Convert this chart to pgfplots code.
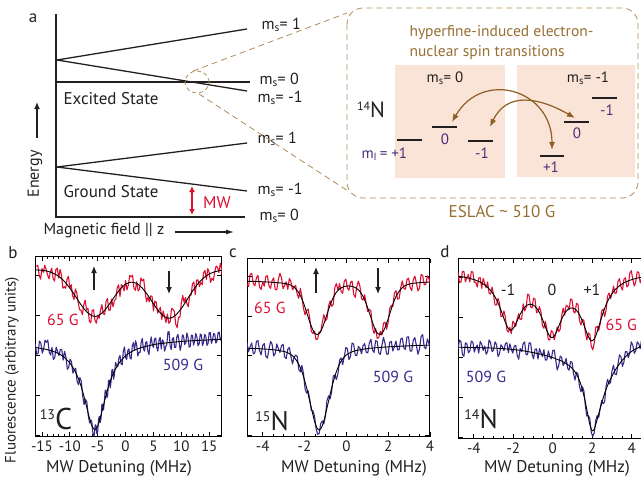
\documentclass[border=0pt]{standalone}
\usepackage{fontspec}
\setmainfont{PT Sans}
\usepackage{pgfplots}
\pgfplotsset{compat=1.18}
\usetikzlibrary{arrows.meta}
\definecolor{tracered}{RGB}{220,16,50}
\definecolor{traceblue}{RGB}{58,40,140}
\definecolor{tanline}{RGB}{176,140,90}
\definecolor{brownarrow}{RGB}{140,95,35}
\definecolor{browntext}{RGB}{150,110,50}
\definecolor{peach}{RGB}{250,228,216}
\definecolor{purp}{RGB}{75,45,120}
\definecolor{txt}{RGB}{35,31,32}
\newcommand{\fs}[1]{\fontsize{#1}{#1}\selectfont}
\newcommand{\ms}{m\textsubscript{s}}
\pgfplotsset{
 panel/.style={
  scale only axis, anchor=south west, ymin=0, ymax=1,
  ytick={0.011,0.233,0.456,0.678,0.9}, yticklabels={}, minor y tick num=2,
  tick align=inside, axis line style={line width=1pt},
  major tick length=4.5pt, minor tick length=2.5pt,
  every tick/.style={black, line width=0.8pt},
  xticklabel style={font=\fs{15}, text=txt},
  xtick={-4,-2,0,2,4}, xticklabels={-4,-2,0,2,4}, minor x tick num=3,
 },
 dataR/.style={tracered, line width=1.1pt, line join=round},
 dataB/.style={traceblue, line width=1.1pt, line join=round},
 fitK/.style={black, line width=0.9pt, smooth},
}
\begin{document}
\begin{tikzpicture}[x=1pt,y=1pt]
\useasboundingbox (0,0) rectangle (641,479);

% ---------- panel b ----------
\begin{axis}[panel, at={(35pt,42pt)}, width=187pt, height=180pt,
  xmin=-16.25, xmax=17.3, xtick={-15,-10,-5,0,5,10,15},
  xticklabels={-15,-10,-5,0,5,10,15}, minor x tick num=4]
\addplot[dataR] coordinates {(-16,0.948) (-15.75,0.953) (-15.5,0.897) (-15.25,0.877) (-15,0.936) (-14.75,0.915) (-14.5,0.954) (-14.25,0.93) (-14,0.901) (-13.75,0.879) (-13.5,0.916) (-13.25,0.938) (-13,0.880) (-12.75,0.866) (-12.5,0.932) (-12.25,0.938) (-12,0.883) (-11.75,0.931) (-11.5,0.899) (-11.25,0.827) (-11,0.835) (-10.75,0.826) (-10.5,0.876) (-10.25,0.892) (-10,0.827) (-9.75,0.846) (-9.5,0.785) (-9.25,0.764) (-9,0.822) (-8.75,0.80) (-8.5,0.748) (-8.25,0.707) (-8,0.705) (-7.75,0.68) (-7.5,0.735) (-7.25,0.76) (-7,0.706) (-6.75,0.715) (-6.5,0.644) (-6.25,0.634) (-6,0.703) (-5.75,0.707) (-5.5,0.650) (-5.25,0.632) (-5,0.673) (-4.75,0.659) (-4.5,0.704) (-4.25,0.735) (-4,0.685) (-3.75,0.68) (-3.5,0.754) (-3.25,0.769) (-3,0.704) (-2.75,0.705) (-2.5,0.766) (-2.25,0.723) (-2,0.759) (-1.75,0.765) (-1.5,0.830) (-1.25,0.845) (-1,0.780) (-0.75,0.848) (-0.5,0.835) (-0.25,0.812) (0,0.869) (0.25,0.817) (0.5,0.845) (0.75,0.898) (1,0.890) (1.25,0.899) (1.5,0.827) (1.75,0.815) (2,0.863) (2.25,0.812) (2.5,0.820) (2.75,0.884) (3,0.867) (3.25,0.877) (3.5,0.807) (3.75,0.752) (4,0.777) (4.25,0.751) (4.5,0.784) (4.75,0.782) (5,0.700) (5.25,0.755) (5.5,0.749) (5.75,0.688) (6,0.707) (6.25,0.72) (6.5,0.653) (6.75,0.70) (7,0.668) (7.25,0.636) (7.5,0.683) (7.75,0.632) (8,0.641) (8.25,0.715) (8.5,0.708) (8.75,0.698) (9,0.627) (9.25,0.607) (9.5,0.666) (9.75,0.665) (10,0.744) (10.25,0.786) (10.5,0.748) (10.75,0.775) (11,0.741) (11.25,0.724) (11.5,0.786) (11.75,0.788) (12,0.850) (12.25,0.861) (12.5,0.791) (12.75,0.872) (13,0.872) (13.25,0.835) (13.5,0.858) (13.75,0.846) (14,0.914) (14.25,0.925) (14.5,0.875) (14.75,0.935) (15,0.915) (15.25,0.859) (15.5,0.882) (15.75,0.87) (16,0.918) (16.25,0.95) (16.5,0.942) (16.75,0.914) (17,0.965) (17.15,0.95) (17.3,0.906)};
\addplot[dataB] coordinates {(-16.2,0.517) (-15.95,0.46) (-15.7,0.464) (-15.45,0.533) (-15.2,0.522) (-14.95,0.466) (-14.7,0.489) (-14.45,0.538) (-14.2,0.526) (-13.95,0.539) (-13.7,0.472) (-13.45,0.455) (-13.2,0.498) (-12.95,0.43) (-12.7,0.442) (-12.45,0.499) (-12.2,0.476) (-11.95,0.452) (-11.7,0.487) (-11.45,0.487) (-11.2,0.427) (-10.95,0.476) (-10.7,0.444) (-10.45,0.376) (-10.2,0.388) (-9.95,0.433) (-9.7,0.417) (-9.45,0.355) (-9.2,0.372) (-8.95,0.381) (-8.7,0.31) (-8.45,0.29) (-8.2,0.33) (-7.95,0.31) (-7.7,0.23) (-7.45,0.18) (-7.2,0.21) (-6.95,0.195) (-6.7,0.12) (-6.45,0.078) (-6.2,0.095) (-6.05,0.083) (-5.9,0.03) (-5.75,0.008) (-5.6,0.011) (-5.45,0.068) (-5.3,0.065) (-5.15,0.018) (-5.0,0.03) (-4.85,0.10) (-4.7,0.115) (-4.55,0.08) (-4.4,0.105) (-4.25,0.183) (-4.1,0.18) (-3.95,0.15) (-3.8,0.2) (-3.65,0.26) (-3.5,0.26) (-3.35,0.218) (-3.2,0.235) (-3.05,0.315) (-2.9,0.315) (-2.75,0.273) (-2.6,0.31) (-2.45,0.373) (-2.3,0.375) (-2.15,0.321) (-2.0,0.347) (-1.8,0.414) (-1.6,0.40) (-1.4,0.39) (-1.2,0.44) (-1.0,0.453) (-0.8,0.405) (-0.6,0.402) (-0.4,0.478) (-0.2,0.50) (0,0.441) (0.2,0.431) (0.4,0.48) (0.6,0.49) (0.8,0.439) (1.0,0.433) (1.2,0.506) (1.4,0.524) (1.6,0.482) (1.8,0.535) (2.0,0.508) (2.2,0.45) (2.4,0.472) (2.6,0.469) (2.8,0.526) (3.0,0.548) (3.2,0.49) (3.4,0.477) (3.6,0.523) (3.8,0.53) (4.0,0.476) (4.2,0.458) (4.4,0.519) (4.6,0.556) (4.8,0.512) (5.0,0.498) (5.2,0.544) (5.4,0.55) (5.6,0.496) (5.8,0.477) (6.0,0.538) (6.2,0.554) (6.4,0.489) (6.6,0.54) (6.8,0.531) (7.0,0.477) (7.2,0.502) (7.4,0.513) (7.6,0.584) (7.8,0.585) (8.0,0.505) (8.2,0.486) (8.4,0.546) (8.6,0.552) (8.8,0.497) (9.0,0.498) (9.2,0.558) (9.4,0.57) (9.6,0.53) (9.8,0.481) (10.0,0.511) (10.2,0.567) (10.4,0.562) (10.6,0.513) (10.8,0.523) (11.0,0.578) (11.2,0.553) (11.4,0.499) (11.6,0.504) (11.8,0.565) (12.0,0.565) (12.2,0.51) (12.4,0.535) (12.6,0.575) (12.8,0.556) (13.0,0.507) (13.2,0.517) (13.4,0.572) (13.6,0.567) (13.8,0.508) (14.0,0.528) (14.2,0.57) (14.4,0.559) (14.6,0.509) (14.8,0.519) (15.0,0.58) (15.2,0.58) (15.4,0.52) (15.6,0.541) (15.8,0.575) (16.0,0.571) (16.2,0.522) (16.4,0.532) (16.6,0.58) (16.8,0.583) (17.0,0.538) (17.2,0.553)};
\addplot[fitK] coordinates {(-16.3,0.929) (-16,0.928) (-15,0.926) (-14,0.921) (-13,0.910) (-12,0.893) (-11,0.865) (-10,0.827) (-9,0.782) (-8,0.735) (-7,0.696) (-6,0.673) (-5.5,0.669) (-5,0.673) (-4,0.695) (-3,0.734) (-2,0.779) (-1,0.820) (0,0.849) (1,0.860) (2,0.853) (3,0.827) (4,0.787) (5,0.740) (6,0.697) (7,0.668) (7.8,0.660) (8.5,0.666) (9,0.677) (10,0.714) (11,0.761) (12,0.810) (13,0.852) (14,0.884) (15,0.905) (16,0.918) (17,0.925) (17.3,0.926)};
\addplot[fitK] coordinates {(-16.3,0.497) (-16,0.496) (-15,0.491) (-14,0.485) (-13,0.476) (-12,0.463) (-11,0.443) (-10,0.411) (-9.5,0.389) (-9,0.362) (-8.5,0.327) (-8,0.284) (-7.5,0.23) (-7,0.169) (-6.5,0.108) (-6,0.059) (-5.5,0.041) (-5,0.06) (-4.5,0.11) (-4,0.172) (-3.5,0.233) (-3,0.287) (-2.5,0.332) (-2,0.367) (-1,0.418) (0,0.451) (1,0.473) (2,0.488) (3,0.498) (4,0.506) (5,0.513) (6,0.518) (8,0.525) (10,0.531) (12,0.535) (14,0.538) (17.3,0.543)};
\end{axis}

% ---------- panel c ----------
\begin{axis}[panel, at={(247pt,42pt)}, width=183pt, height=178pt,
  xmin=-4.75, xmax=4.0]
\addplot[dataR] coordinates {(-4.90,.905) (-4.825,.91) (-4.75,.855) (-4.675,.845) (-4.60,.914) (-4.525,.919) (-4.45,.864) (-4.375,.849) (-4.30,.8935) (-4.225,.908) (-4.15,.843) (-4.075,.828) (-4.00,.872) (-3.925,.847) (-3.85,.901) (-3.775,.906) (-3.70,.850) (-3.625,.835) (-3.55,.879) (-3.475,.894) (-3.40,.828) (-3.325,.827) (-3.25,.886) (-3.175,.92) (-3.10,.894) (-3.025,.833) (-2.95,.852) (-2.875,.871) (-2.80,.829) (-2.725,.891) (-2.65,.872) (-2.575,.827) (-2.50,.842) (-2.425,.852) (-2.35,.802) (-2.275,.779) (-2.20,.835) (-2.125,.79) (-2.05,.723) (-1.975,.687) (-1.90,.711) (-1.825,.719) (-1.75,.667) (-1.675,.594) (-1.60,.5815) (-1.525,.595) (-1.45,.548) (-1.375,.55) (-1.30,.591) (-1.225,.588) (-1.15,.644) (-1.075,.688) (-1.00,.652) (-0.925,.664) (-0.85,.736) (-0.775,.765) (-0.70,.734) (-0.625,.747) (-0.55,.84) (-0.475,.862) (-0.40,.824) (-0.325,.861) (-0.25,.818) (-0.175,.807) (-0.10,.875) (-0.025,.887) (0.05,.839) (0.125,.824) (0.20,.868) (0.275,.876) (0.35,.803) (0.425,.784) (0.50,.844) (0.575,.876) (0.65,.847) (0.725,.778) (0.80,.7695) (0.875,.799) (0.95,.749) (1.025,.704) (1.10,.718) (1.175,.707) (1.25,.615) (1.325,.582) (1.40,.6095) (1.475,.554) (1.55,.558) (1.625,.595) (1.70,.572) (1.775,.639) (1.85,.645) (1.925,.605) (2.00,.6445) (2.075,.722) (2.15,.739) (2.225,.734) (2.30,.809) (2.375,.822) (2.45,.775) (2.525,.777) (2.60,.839) (2.675,.877) (2.75,.835) (2.825,.83) (2.90,.885) (2.975,.893) (3.05,.840) (3.125,.822) (3.20,.883) (3.275,.904) (3.35,.865) (3.425,.821) (3.50,.837) (3.575,.913) (3.65,.908) (3.725,.854) (3.80,.859) (3.875,.905) (3.95,.890) (4.025,.856) (4.10,.9015)};
\addplot[dataB] coordinates {(-4.90,.479) (-4.825,.534) (-4.75,.529) (-4.675,.479) (-4.60,.508) (-4.525,.528) (-4.45,.4675) (-4.375,.472) (-4.30,.537) (-4.225,.542) (-4.15,.486) (-4.075,.461) (-4.00,.515) (-3.925,.525) (-3.85,.454) (-3.775,.443) (-3.70,.492) (-3.625,.537) (-3.55,.521) (-3.475,.455) (-3.40,.469) (-3.325,.523) (-3.25,.496) (-3.175,.475) (-3.10,.513) (-3.025,.521) (-2.95,.449) (-2.875,.441) (-2.80,.493) (-2.725,.503) (-2.65,.453) (-2.575,.41) (-2.50,.448) (-2.425,.46) (-2.35,.453) (-2.275,.38) (-2.20,.366) (-2.125,.402) (-2.05,.358) (-1.975,.272) (-1.90,.247) (-1.825,.259) (-1.75,.211) (-1.675,.15) (-1.60,.148) (-1.525,.119) (-1.45,.05) (-1.375,.015) (-1.30,.019) (-1.225,.075) (-1.15,.09) (-1.075,.074) (-1.00,.118) (-0.925,.205) (-0.85,.231) (-0.775,.214) (-0.70,.257) (-0.625,.343) (-0.55,.348) (-0.475,.323) (-0.40,.357) (-0.325,.431) (-0.25,.444) (-0.175,.407) (-0.10,.45) (-0.025,.503) (0.05,.496) (0.125,.435) (0.20,.454) (0.275,.528) (0.35,.522) (0.425,.46) (0.50,.457) (0.575,.509) (0.65,.500) (0.725,.467) (0.80,.513) (0.875,.525) (0.95,.476) (1.025,.472) (1.10,.528) (1.175,.549) (1.25,.4895) (1.325,.475) (1.40,.541) (1.475,.537) (1.55,.473) (1.625,.464) (1.70,.514) (1.775,.56) (1.85,.525) (1.925,.466) (2.00,.466) (2.075,.532) (2.15,.537) (2.225,.483) (2.30,.508) (2.375,.539) (2.45,.489) (2.525,.49) (2.60,.550) (2.675,.556) (2.75,.501) (2.825,.492) (2.90,.562) (2.975,.563) (3.05,.483) (3.125,.483) (3.20,.543) (3.275,.559) (3.35,.514) (3.425,.465) (3.50,.495) (3.575,.565) (3.65,.575) (3.725,.505) (3.80,.495) (3.875,.551) (3.95,.526) (4.025,.496) (4.10,.546)};
\addplot[fitK] coordinates {(-4.9,.875) (-4.4,.874) (-3.9,.8715) (-3.4,.868) (-2.9,.862) (-2.7,.855) (-2.5,.842) (-2.3,.815) (-2.2,.795) (-2.1,.769) (-2.0,.737) (-1.9,.701) (-1.8,.6645) (-1.7,.63) (-1.6,.6015) (-1.5,.582) (-1.4,.575) (-1.3,.581) (-1.2,.5995) (-1.1,.628) (-1.0,.662) (-0.9,.698) (-0.8,.733) (-0.7,.764) (-0.6,.7895) (-0.5,.809) (-0.4,.824) (-0.3,.834) (-0.2,.841) (-0.1,.845) (0.1,.849) (0.3,.845) (0.4,.841) (0.5,.834) (0.6,.824) (0.7,.809) (0.8,.7895) (0.9,.764) (1.0,.733) (1.1,.698) (1.2,.662) (1.3,.628) (1.4,.5995) (1.5,.581) (1.6,.575) (1.7,.582) (1.8,.6015) (1.9,.63) (2.0,.6645) (2.1,.701) (2.2,.737) (2.3,.769) (2.4,.795) (2.5,.815) (2.7,.842) (2.9,.855) (3.1,.862) (3.6,.868) (4.1,.8715)};
\addplot[fitK] coordinates {(-4.9,.499) (-4.4,.4975) (-3.9,.494) (-3.4,.489) (-2.9,.478) (-2.7,.467) (-2.5,.448) (-2.3,.414) (-2.1,.358) (-1.9,.277) (-1.7,.176) (-1.6,.126) (-1.5,.08) (-1.4,.051) (-1.3,.039) (-1.2,.051) (-1.1,.08) (-1.0,.126) (-0.9,.176) (-0.7,.277) (-0.5,.359) (-0.3,.416) (-0.1,.45) (0.1,.469) (0.4,.484) (0.7,.491) (1.1,.498) (1.6,.503) (2.1,.507) (2.6,.510) (3.1,.513) (3.6,.515) (4.1,.516)};
\end{axis}

% ---------- panel d ----------
\begin{axis}[panel, at={(458pt,40pt)}, width=189.6pt, height=180pt,
  xmin=-4.8, xmax=4.8]
\addplot[dataR] coordinates {(-4.8,.925) (-4.725,.869) (-4.65,.872) (-4.575,.931) (-4.5,.930) (-4.425,.873) (-4.35,.896) (-4.275,.914) (-4.2,.872) (-4.125,.93) (-4.05,.928) (-3.975,.87) (-3.9,.872) (-3.825,.844) (-3.75,.895) (-3.675,.896) (-3.6,.837) (-3.525,.892) (-3.45,.866) (-3.375,.84) (-3.3,.873) (-3.225,.809) (-3.15,.805) (-3.075,.844) (-3.0,.803) (-2.925,.744) (-2.85,.744) (-2.775,.781) (-2.7,.757) (-2.625,.68) (-2.55,.683) (-2.475,.711) (-2.4,.678) (-2.325,.606) (-2.25,.594) (-2.175,.62) (-2.1,.585) (-2.025,.654) (-1.95,.643) (-1.875,.626) (-1.8,.668) (-1.725,.696) (-1.65,.663) (-1.575,.667) (-1.5,.751) (-1.425,.711) (-1.35,.730) (-1.275,.805) (-1.2,.799) (-1.125,.734) (-1.05,.728) (-0.975,.783) (-0.9,.777) (-0.825,.702) (-0.75,.707) (-0.675,.736) (-0.6,.705) (-0.525,.63) (-0.45,.615) (-0.375,.654) (-0.3,.612) (-0.225,.551) (-0.15,.550) (-0.075,.602) (0,.594) (0.075,.551) (0.15,.587) (0.225,.622) (0.3,.596) (0.375,.611) (0.45,.686) (0.525,.727) (0.6,.688) (0.675,.743) (0.75,.738) (0.825,.718) (0.9,.778) (0.975,.773) (1.05,.707) (1.125,.70) (1.2,.754) (1.275,.747) (1.35,.660) (1.425,.633) (1.5,.665) (1.575,.658) (1.65,.591) (1.725,.55) (1.8,.589) (1.875,.582) (1.95,.515) (2.025,.495) (2.1,.535) (2.175,.62) (2.25,.626) (2.325,.603) (2.4,.640) (2.475,.711) (2.55,.722) (2.625,.68) (2.7,.717) (2.775,.794) (2.85,.811) (2.925,.78) (3.0,.808) (3.075,.849) (3.15,.809) (3.225,.812) (3.3,.875) (3.375,.891) (3.45,.847) (3.525,.827) (3.6,.887) (3.675,.896) (3.75,.845) (3.825,.854) (3.9,.922) (3.975,.935) (4.05,.887) (4.125,.85) (4.2,.872) (4.275,.929) (4.35,.926) (4.425,.868) (4.5,.889)};
\addplot[dataB] coordinates {(-4.8,.50) (-4.725,.55) (-4.65,.54) (-4.575,.47) (-4.5,.4595) (-4.425,.534) (-4.35,.529) (-4.275,.479) (-4.2,.489) (-4.125,.544) (-4.05,.538) (-3.975,.483) (-3.9,.5077) (-3.825,.522) (-3.75,.477) (-3.675,.542) (-3.6,.527) (-3.525,.492) (-3.45,.516) (-3.375,.471) (-3.3,.486) (-3.225,.551) (-3.15,.535) (-3.075,.485) (-3.0,.495) (-2.925,.54) (-2.85,.524) (-2.775,.459) (-2.7,.473) (-2.625,.523) (-2.55,.512) (-2.475,.491) (-2.4,.53) (-2.325,.535) (-2.25,.479) (-2.175,.529) (-2.1,.498) (-2.025,.477) (-1.95,.5165) (-1.875,.52) (-1.8,.464) (-1.725,.443) (-1.65,.502) (-1.575,.486) (-1.5,.53) (-1.425,.539) (-1.35,.467) (-1.275,.471) (-1.2,.534) (-1.125,.533) (-1.05,.471) (-0.975,.445) (-0.9,.498) (-0.825,.501) (-0.75,.444) (-0.675,.502) (-0.6,.48) (-0.525,.458) (-0.45,.496) (-0.375,.438) (-0.3,.44) (-0.225,.489) (-0.15,.457) (-0.075,.445) (0,.492) (0.075,.494) (0.15,.436) (0.225,.383) (0.3,.409) (0.375,.461) (0.45,.452) (0.525,.408) (0.6,.423) (0.675,.448) (0.75,.393) (0.825,.382) (0.9,.43) (0.975,.427) (1.05,.363) (1.125,.327) (1.2,.37) (1.275,.362) (1.35,.293) (1.425,.262) (1.5,.29) (1.575,.267) (1.65,.183) (1.725,.127) (1.8,.13) (1.875,.113) (1.95,.035) (2.025,.015) (2.1,.035) (2.175,.103) (2.25,.13) (2.325,.12) (2.4,.17) (2.475,.213) (2.55,.196) (2.625,.206) (2.7,.295) (2.775,.331) (2.85,.306) (2.925,.313) (3.0,.38) (3.075,.41) (3.15,.36) (3.225,.358) (3.3,.415) (3.375,.467) (3.45,.458) (3.525,.403) (3.6,.427) (3.675,.486) (3.75,.485) (3.825,.452) (3.9,.479) (3.975,.54) (4.05,.521) (4.125,.476) (4.2,.49) (4.275,.54) (4.35,.529) (4.425,.502) (4.5,.555)};
\addplot[fitK] coordinates {(-4.8,.9047) (-4.65,.9022) (-4.5,.8999) (-4.35,.8962) (-4.2,.8923) (-4.05,.8875) (-3.9,.8821) (-3.75,.8751) (-3.6,.8668) (-3.45,.8562) (-3.3,.8427) (-3.15,.8253) (-3.0,.8028) (-2.85,.7737) (-2.7,.7368) (-2.55,.6931) (-2.4,.6479) (-2.25,.6138) (-2.1,.6048) (-1.95,.6233) (-1.8,.6577) (-1.65,.6932) (-1.5,.7214) (-1.35,.7399) (-1.2,.7485) (-1.05,.7476) (-0.9,.7372) (-0.75,.7166) (-0.6,.6853) (-0.45,.6452) (-0.3,.6022) (-0.15,.5701) (0,.5641) (0.15,.5868) (0.3,.626) (0.45,.6658) (0.6,.6976) (0.75,.7182) (0.9,.7278) (1.05,.7266) (1.2,.7142) (1.35,.6904) (1.5,.6549) (1.65,.611) (1.8,.5686) (1.95,.5454) (2.1,.5554) (2.25,.596) (2.4,.65) (2.55,.7023) (2.7,.7465) (2.85,.7812) (3.0,.8079) (3.15,.8287) (3.3,.8446) (3.45,.8572) (3.6,.8671) (3.75,.8753) (3.9,.8817) (4.05,.8872) (4.2,.8918) (4.35,.8956) (4.5,.8988) (4.8,.905)};
\addplot[fitK] coordinates {(-4.8,.51) (-4,.508) (-3,.505) (-2,.497) (-1.5,.49) (-1,.48) (-0.5,.468) (0,.452) (0.5,.43) (0.8,.41) (1.0,.39) (1.2,.36) (1.4,.31) (1.6,.23) (1.8,.12) (1.9,.07) (2.0,.045) (2.1,.055) (2.2,.09) (2.4,.17) (2.6,.245) (2.8,.305) (3.0,.35) (3.2,.39) (3.5,.435) (3.8,.47) (4.1,.495) (4.5,.515) (4.8,.522)};
\end{axis}

% ---------- overlay (pixel coordinates) ----------
\begin{axis}[at={(0pt,0pt)}, anchor=south west, scale only axis, width=641pt, height=479pt,
  xmin=0, xmax=641, ymin=0, ymax=479, y dir=reverse, hide axis, clip=false]
% energy diagram
\addplot[txt, line width=1.3pt] coordinates {(56,14) (56,217) (245,217)};
\addplot[txt, line width=1.3pt] coordinates {(57,167) (247,143)};
\addplot[txt, line width=1.3pt] coordinates {(57,167) (247,191)};
\addplot[txt, line width=1.3pt] coordinates {(57,60) (247,29)};
\addplot[txt, line width=1.3pt] coordinates {(57,60) (247,91)};
\addplot[txt, line width=1.3pt] coordinates {(57,82) (250,82)};
\draw[txt, line width=1.3pt, -{Latex[length=7pt,width=6pt]}] (axis cs:37,138) -- (axis cs:37,102);
\draw[txt, line width=1.1pt, -{Latex[length=8pt,width=5pt]}] (axis cs:175,232) -- (axis cs:234,232);
\draw[tracered, line width=1.6pt, {Latex[length=6pt,width=6pt]}-{Latex[length=6pt,width=6pt]}] (axis cs:192,186) -- (axis cs:192,215);
\node[font=\fs{17}, text=txt] at (axis cs:33,18) {a};
\node[font=\fs{16}, text=txt, anchor=west] at (axis cs:258,25) {\ms= 1};
\node[font=\fs{16}, text=txt, anchor=west] at (axis cs:256,80) {\ms= 0};
\node[font=\fs{16}, text=txt, anchor=west] at (axis cs:254,98) {\ms= -1};
\node[font=\fs{16}, text=txt, anchor=west] at (axis cs:254,139) {\ms= 1};
\node[font=\fs{16}, text=txt, anchor=west] at (axis cs:254,190) {\ms= -1};
\node[font=\fs{16}, text=txt, anchor=west] at (axis cs:256,216) {\ms= 0};
\node[font=\fs{17}, text=txt, anchor=west] at (axis cs:60,99) {Excited State};
\node[font=\fs{17}, text=txt, anchor=west] at (axis cs:60,192) {Ground State};
\node[font=\fs{16}, text=txt, rotate=90] at (axis cs:35,174) {Energy};
\node[font=\fs{16}, text=txt, anchor=west] at (axis cs:40,231) {Magnetic field || z};
\node[font=\fs{17}, text=tracered] at (axis cs:217,203) {MW};
% zoom ellipse and dashed connectors
\draw[tanline, line width=0.8pt, dash pattern=on 4pt off 3pt] (axis cs:197,82) ellipse [x radius=12pt, y radius=11pt];
\draw[tanline, line width=0.8pt, dash pattern=on 6pt off 4pt] (axis cs:193,71) -- (axis cs:347,13);
\draw[tanline, line width=0.8pt, dash pattern=on 6pt off 4pt] (axis cs:199,94) -- (axis cs:348,191);
% inset
\fill[peach] (axis cs:395,65) rectangle (axis cs:505,178);
\fill[peach] (axis cs:517,65) rectangle (axis cs:635,177);
\draw[tanline, line width=0.8pt, dash pattern=on 6pt off 4pt, rounded corners=16pt] (axis cs:347,8) rectangle (axis cs:638,198);
\node[font=\fs{15.5}, text=browntext, anchor=west] at (axis cs:406,33) {hyperfine-induced electron-};
\node[font=\fs{15.5}, text=browntext, anchor=west] at (axis cs:406,53) {nuclear spin transitions};
\node[font=\fs{15}, text=txt] at (axis cs:445,78) {\ms= 0};
\node[font=\fs{15}, text=txt] at (axis cs:588,78) {\ms= -1};
\node[text=txt] at (axis cs:371,110) {{\fs{12}\raisebox{7pt}{14}}{\fs{22}N}};
\addplot[txt, line width=1.5pt] coordinates {(397,140) (422,140)};
\addplot[txt, line width=1.5pt] coordinates {(432,127) (457,127)};
\addplot[txt, line width=1.5pt] coordinates {(468,141) (493,141)};
\addplot[txt, line width=1.5pt] coordinates {(564,122) (589,122)};
\addplot[txt, line width=1.5pt] coordinates {(592,98) (617,98)};
\addplot[txt, line width=1.5pt] coordinates {(540,156) (564,156)};
\node[font=\fs{15}, text=purp, anchor=west] at (axis cs:358,154) {m\textsubscript{I}\,= +1};
\node[font=\fs{15}, text=purp] at (axis cs:445,139) {0};
\node[font=\fs{15}, text=purp] at (axis cs:482,153) {-1};
\node[font=\fs{15}, text=purp] at (axis cs:577,133) {0};
\node[font=\fs{15}, text=purp] at (axis cs:607,110) {-1};
\node[font=\fs{15}, text=purp] at (axis cs:551,167) {+1};
\draw[brownarrow, line width=1.2pt, {Latex[length=8pt,width=6pt]}-{Latex[length=8pt,width=6pt]}] (axis cs:452,122) to[out=60, in=90, looseness=1.5] (axis cs:552,150);
\draw[brownarrow, line width=1.2pt, {Latex[length=8pt,width=6pt]}-{Latex[length=8pt,width=6pt]}] (axis cs:490,127) to[out=65, in=150, looseness=1.2] (axis cs:575,118);
\node[font=\fs{17}, text=browntext] at (axis cs:502,212) {ESLAC \textasciitilde\ 510 G};
% panel labels and annotations
\node[font=\fs{17}, text=txt] at (axis cs:13,253) {b};
\node[font=\fs{17}, text=txt] at (axis cs:233,253) {c};
\node[font=\fs{17}, text=txt] at (axis cs:445,252) {d};
\node[font=\fs{17}, text=txt] at (axis cs:119,468) {MW Detuning (MHz)};
\node[font=\fs{17}, text=txt] at (axis cs:354,468) {MW Detuning (MHz)};
\node[font=\fs{17}, text=txt] at (axis cs:557,468) {MW Detuning (MHz)};
\node[font=\fs{15}, text=txt, rotate=90] at (axis cs:12,370) {Fluorescence (arbitrary units)};
\node[font=\fs{16}, text=tracered] at (axis cs:63,320) {65 G};
\node[font=\fs{16}, text=tracered] at (axis cs:270,308) {65 G};
\node[font=\fs{16}, text=tracered, anchor=west] at (axis cs:602,325) {65 G};
\node[font=\fs{16}, text=traceblue] at (axis cs:183,365) {509 G};
\node[font=\fs{16}, text=traceblue] at (axis cs:393,377) {509 G};
\node[font=\fs{16}, text=traceblue] at (axis cs:486,377) {509 G};
\node[text=txt] at (axis cs:56,419) {{\fs{14}\raisebox{10pt}{13}}{\fs{30}C}};
\node[text=txt] at (axis cs:272,421) {{\fs{14}\raisebox{9pt}{15}}{\fs{27}N}};
\node[text=txt] at (axis cs:481,419) {{\fs{14}\raisebox{9pt}{14}}{\fs{27}N}};
\node[font=\fs{16}, text=txt] at (axis cs:508,290) {-1};
\node[font=\fs{16}, text=txt] at (axis cs:552,290) {0};
\node[font=\fs{16}, text=txt] at (axis cs:592,290) {+1};
\draw[txt, line width=1.1pt, -{Latex[length=7pt,width=6pt]}] (axis cs:94,290) -- (axis cs:94,266);
\draw[txt, line width=1.1pt, -{Latex[length=7pt,width=6pt]}] (axis cs:169,271) -- (axis cs:169,294);
\draw[txt, line width=1.1pt, -{Latex[length=7pt,width=6pt]}] (axis cs:316,293) -- (axis cs:316,267);
\draw[txt, line width=1.1pt, -{Latex[length=7pt,width=6pt]}] (axis cs:378,268) -- (axis cs:378,294);
\end{axis}
\end{tikzpicture}
\end{document}
